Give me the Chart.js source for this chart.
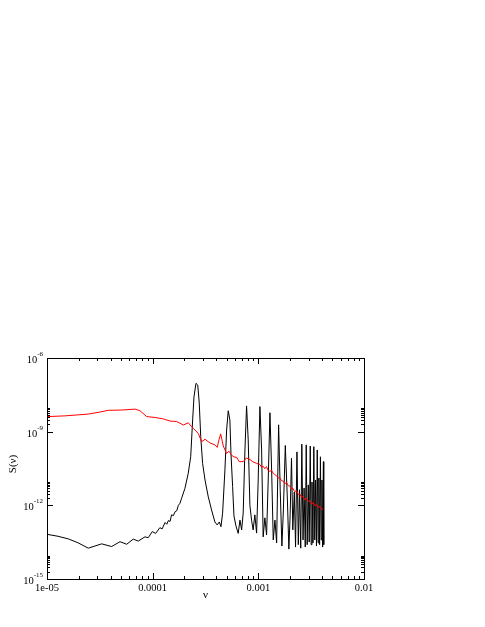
<!DOCTYPE html>
<html>
<head>
<meta charset="utf-8">
<script src="https://cdn.jsdelivr.net/npm/chart.js@4.4.0/dist/chart.umd.min.js"></script>
<style>
  html, body { margin: 0; padding: 0; background: #fff; }
  canvas { display: block; }
</style>
</head>
<body>
<canvas id="chart" width="485" height="627"></canvas>
<script>
// ── Data ──────────────────────────────────────────────────
const blackNu = [
  1.0e-5, 1.27e-5, 1.59e-5, 1.96e-5, 2.46e-5, 2.84e-5, 3.29e-5, 4.09e-5, 4.91e-5, 5.68e-5,
  6.55e-5, 7.31e-5, 8.45e-5, 9.08e-5, 9.91e-5, 1.067e-4, 1.17e-4, 1.23e-4, 1.31e-4, 1.36e-4,
  1.41e-4, 1.46e-4, 1.51e-4, 1.57e-4, 1.63e-4, 1.69e-4, 1.75e-4, 1.81e-4, 1.88e-4, 2.02e-4,
  2.17e-4, 2.29e-4, 2.39e-4, 2.46e-4, 2.57e-4, 2.67e-4, 2.76e-4, 2.85e-4, 2.97e-4, 3.13e-4,
  3.36e-4, 3.61e-4, 3.88e-4, 4.08e-4, 4.27e-4, 4.43e-4, 4.59e-4, 4.83e-4, 5.01e-4, 5.19e-4,
  5.38e-4, 5.51e-4, 5.71e-4, 5.88e-4, 6.14e-4, 6.45e-4, 6.70e-4, 6.95e-4, 7.19e-4, 7.47e-4,
  7.74e-4, 8.02e-4, 8.32e-4, 8.63e-4, 8.93e-4, 9.27e-4, 9.63e-4, 9.97e-4, 1.035e-3, 1.074e-3,
  1.111e-3, 1.153e-3, 1.197e-3, 1.240e-3, 1.288e-3, 1.336e-3, 1.384e-3, 1.436e-3, 1.490e-3, 1.556e-3,
  1.611e-3, 1.671e-3, 1.726e-3, 1.80e-3, 1.884e-3, 1.945e-3, 2.00e-3, 2.06e-3, 2.12e-3, 2.19e-3,
  2.25e-3, 2.32e-3, 2.39e-3, 2.45e-3, 2.52e-3, 2.58e-3, 2.65e-3, 2.71e-3, 2.78e-3, 2.84e-3,
  2.90e-3, 2.97e-3, 3.03e-3, 3.10e-3, 3.16e-3, 3.22e-3, 3.29e-3, 3.35e-3, 3.42e-3, 3.48e-3,
  3.55e-3, 3.61e-3, 3.68e-3, 3.74e-3, 3.80e-3, 3.87e-3, 3.93e-3, 4.00e-3, 4.06e-3, 4.13e-3,
  4.16e-3
];
const blackS = [
  6.6e-14, 5.5e-14, 4.3e-14, 3.0e-14, 1.8e-14, 2.2e-14, 2.7e-14, 2.1e-14, 3.3e-14, 2.6e-14,
  4.2e-14, 3.5e-14, 5.2e-14, 4.8e-14, 8.5e-14, 7.2e-14, 1.23e-13, 1.1e-13, 2.0e-13, 1.7e-13,
  2.4e-13, 2.2e-13, 4.1e-13, 3.8e-13, 5.5e-13, 6.0e-13, 1.0e-12, 1.2e-12, 1.95e-12, 4.9e-12,
  2.0e-11, 9.5e-11, 3.0e-9, 2.6e-8, 9.3e-8, 7.9e-8, 1.45e-8, 6.3e-10, 5.1e-11, 1.07e-11,
  2.2e-12, 6.5e-13, 2.1e-13, 1.6e-13, 2.1e-13, 1.35e-13, 4.8e-13, 2.75e-11, 1.17e-9, 7.1e-9,
  3.0e-9, 1.3e-10, 5.8e-12, 3.7e-13, 1.45e-13, 7.2e-14, 2.5e-13, 1.0e-13, 4.9e-13, 1.8e-10,
  1.12e-8, 4.6e-10, 1.0e-12, 2.5e-13, 1.0e-13, 4.1e-13, 7.4e-14, 1.07e-11, 1.05e-8, 1.8e-10,
  5.2e-14, 3.1e-13, 6.2e-14, 1.07e-11, 5.9e-9, 2.75e-11, 3.9e-14, 2.5e-13, 2.95e-14, 1.9e-9,
  4.3e-12, 2.2e-14, 6.5e-13, 2.75e-10, 1.65e-12, 1.65e-14, 4.1e-13, 8.3e-11, 1.0e-13, 3.5e-12,
  2.0e-14, 1.5e-10, 2.5e-14, 4.3e-12, 1.8e-14, 3.1e-10, 3.9e-14, 5.1e-12, 2.0e-14, 2.9e-10,
  2.5e-14, 6.8e-12, 3.2e-14, 2.6e-10, 2.5e-14, 8.9e-12, 2.95e-14, 2.45e-10, 3.9e-14, 1.07e-11,
  2.2e-14, 1.8e-10, 2.95e-14, 1.3e-11, 2.5e-14, 9.5e-11, 3.9e-14, 1.07e-11, 2.0e-14, 6.0e-11,
  2.5e-14
];

const redNu = [
  1.0e-5, 1.48e-5, 2.46e-5, 3.17e-5, 3.80e-5, 5.09e-5, 6.81e-5, 7.59e-5, 8.78e-5, 1.05e-4,
  1.17e-4, 1.26e-4, 1.46e-4, 1.69e-4, 1.95e-4, 2.17e-4, 2.42e-4, 2.70e-4, 2.91e-4, 3.13e-4,
  3.48e-4, 3.88e-4, 4.08e-4, 4.24e-4, 4.40e-4, 4.53e-4, 4.66e-4, 5.01e-4, 5.27e-4, 5.59e-4,
  5.88e-4, 6.23e-4, 6.60e-4, 7.19e-4, 7.71e-4, 8.32e-4, 8.89e-4, 9.63e-4, 1.035e-3, 1.07e-3,
  1.111e-3, 1.15e-3, 1.193e-3, 1.24e-3, 1.288e-3, 1.33e-3, 1.384e-3, 1.43e-3, 1.49e-3, 1.54e-3,
  1.60e-3, 1.66e-3, 1.72e-3, 1.78e-3, 1.85e-3, 1.92e-3, 1.99e-3, 2.05e-3, 2.12e-3, 2.20e-3,
  2.30e-3, 2.38e-3, 2.48e-3, 2.56e-3, 2.64e-3, 2.74e-3, 2.85e-3, 2.96e-3, 3.08e-3, 3.20e-3,
  3.31e-3, 3.43e-3, 3.56e-3, 3.70e-3, 3.83e-3, 3.97e-3, 4.11e-3
];
const redS = [
  4.1e-9, 4.4e-9, 5.2e-9, 6.3e-9, 7.4e-9, 7.6e-9, 8.3e-9, 7.1e-9, 4.1e-9, 3.8e-9,
  3.5e-9, 3.3e-9, 2.7e-9, 2.6e-9, 1.86e-9, 2.3e-9, 1.38e-9, 8.5e-10, 3.9e-10, 4.9e-10,
  3.5e-10, 2.9e-10, 2.3e-10, 4.6e-10, 8.1e-10, 4.6e-10, 2.6e-10, 1.3e-10, 1.6e-10, 1.1e-10,
  9.3e-11, 9.1e-11, 6.0e-11, 6.0e-11, 8.5e-11, 7.4e-11, 5.9e-11, 5.1e-11, 4.6e-11, 3.6e-11,
  3.9e-11, 3.1e-11, 3.8e-11, 2.6e-11, 2.4e-11, 2.7e-11, 2.0e-11, 1.8e-11, 1.6e-11, 1.3e-11,
  1.35e-11, 1.0e-11, 9.8e-12, 7.6e-12, 8.4e-12, 6.3e-12, 6.1e-12, 4.6e-12, 5.0e-12, 3.7e-12,
  3.9e-12, 2.8e-12, 2.9e-12, 2.1e-12, 2.4e-12, 1.7e-12, 1.95e-12, 1.45e-12, 1.55e-12, 1.12e-12,
  1.3e-12, 0.95e-12, 1.1e-12, 0.82e-12, 0.9e-12, 0.68e-12, 0.72e-12
];

// Axis ticks
const xMajor = [1e-5, 1e-4, 1e-3, 1e-2];
const xLabels = ['1e-05', '0.0001', '0.001', '0.01'];
const xMinorDecades = [1e-5, 1e-4, 1e-3];
const yMajor = [1e-6, 1e-9, 1e-12, 1e-15];
const yExponents = ['-6', '-9', '-12', '-15'];
const yMinorDecades = [1e-15, 1e-12, 1e-9];
const minorSteps = [2, 3, 4, 5, 6, 7, 8, 9];

const SERIF = "'Liberation Serif', 'DejaVu Serif', serif";

function tickList(major, decades) {
  const list = major.map(v => ({ value: v, major: true }));
  decades.forEach(d => minorSteps.forEach(m => list.push({ value: m * d, major: false })));
  return list;
}

// Draws the frame, inward ticks on all four sides and the labels
const gracePlugin = {
  id: 'grace',
  afterDraw(chart) {
    const { ctx, chartArea: a, scales: { x, y } } = chart;
    ctx.save();
    ctx.strokeStyle = '#000';
    ctx.lineWidth = 1;
    ctx.strokeRect(a.left + 0.5, a.top + 0.5, a.right - a.left, a.bottom - a.top);

    ctx.beginPath();
    x.ticks.forEach(t => {
      const px = Math.round(x.getPixelForValue(t.value)) + 0.5;
      const len = t.major ? 6 : 3;
      ctx.moveTo(px, a.bottom); ctx.lineTo(px, a.bottom - len);
      ctx.moveTo(px, a.top); ctx.lineTo(px, a.top + len);
    });
    y.ticks.forEach(t => {
      const py = Math.round(y.getPixelForValue(t.value)) + 0.5;
      const len = t.major ? 6 : 3;
      ctx.moveTo(a.left, py); ctx.lineTo(a.left + len, py);
      ctx.moveTo(a.right, py); ctx.lineTo(a.right - len, py);
    });
    ctx.stroke();

    ctx.fillStyle = '#000';
    // x tick labels
    ctx.font = `10.5px ${SERIF}`;
    ctx.textAlign = 'center';
    ctx.textBaseline = 'alphabetic';
    xMajor.forEach((v, i) => {
      ctx.fillText(xLabels[i], x.getPixelForValue(v), 591);
    });

    // y tick labels: 10 with superscript exponent
    yMajor.forEach((v, i) => {
      const py = y.getPixelForValue(v);
      ctx.font = `10.5px ${SERIF}`;
      const wBase = ctx.measureText('10').width;
      ctx.font = `7px ${SERIF}`;
      const wExp = ctx.measureText(yExponents[i]).width;
      const x0 = a.left - 4 - wBase - wExp;
      ctx.textAlign = 'left';
      ctx.font = `10.5px ${SERIF}`;
      ctx.fillText('10', x0, py + 5);
      ctx.font = `7px ${SERIF}`;
      ctx.fillText(yExponents[i], x0 + wBase, py - 2);
    });

    // axis titles
    ctx.font = `11px ${SERIF}`;
    ctx.textAlign = 'center';
    ctx.fillText('ν', (a.left + a.right) / 2, 598);

    ctx.translate(16, 464);
    ctx.rotate(-Math.PI / 2);
    ctx.textBaseline = 'alphabetic';
    ctx.fillText('S(ν)', 0, 0);
    ctx.restore();
  }
};

const hiddenAxis = {
  grid: { display: false, drawTicks: false },
  border: { display: false },
  title: { display: false },
  ticks: { display: false }
};

new Chart(document.getElementById('chart'), {
  type: 'line',
  data: {
    datasets: [
      {
        label: 'red',
        data: redNu.map((v, i) => ({ x: v, y: redS[i] })),
        borderColor: '#ff0000',
        borderWidth: 1,
        pointRadius: 0,
        tension: 0,
        fill: false
      },
      {
        label: 'black',
        data: blackNu.map((v, i) => ({ x: v, y: blackS[i] })),
        borderColor: '#000000',
        borderWidth: 1,
        pointRadius: 0,
        tension: 0,
        fill: false
      }
    ]
  },
  options: {
    responsive: false,
    animation: false,
    devicePixelRatio: 1,
    layout: { padding: { left: 47, right: 121, top: 358, bottom: 48 } },
    plugins: { legend: { display: false }, tooltip: { enabled: false } },
    scales: {
      x: {
        type: 'logarithmic',
        min: 1e-5,
        max: 1e-2,
        ...hiddenAxis,
        afterBuildTicks: s => { s.ticks = tickList(xMajor, xMinorDecades); }
      },
      y: {
        type: 'logarithmic',
        min: 1e-15,
        max: 1e-6,
        ...hiddenAxis,
        afterBuildTicks: s => { s.ticks = tickList(yMajor, yMinorDecades); }
      }
    }
  },
  plugins: [gracePlugin]
});
</script>
</body>
</html>
